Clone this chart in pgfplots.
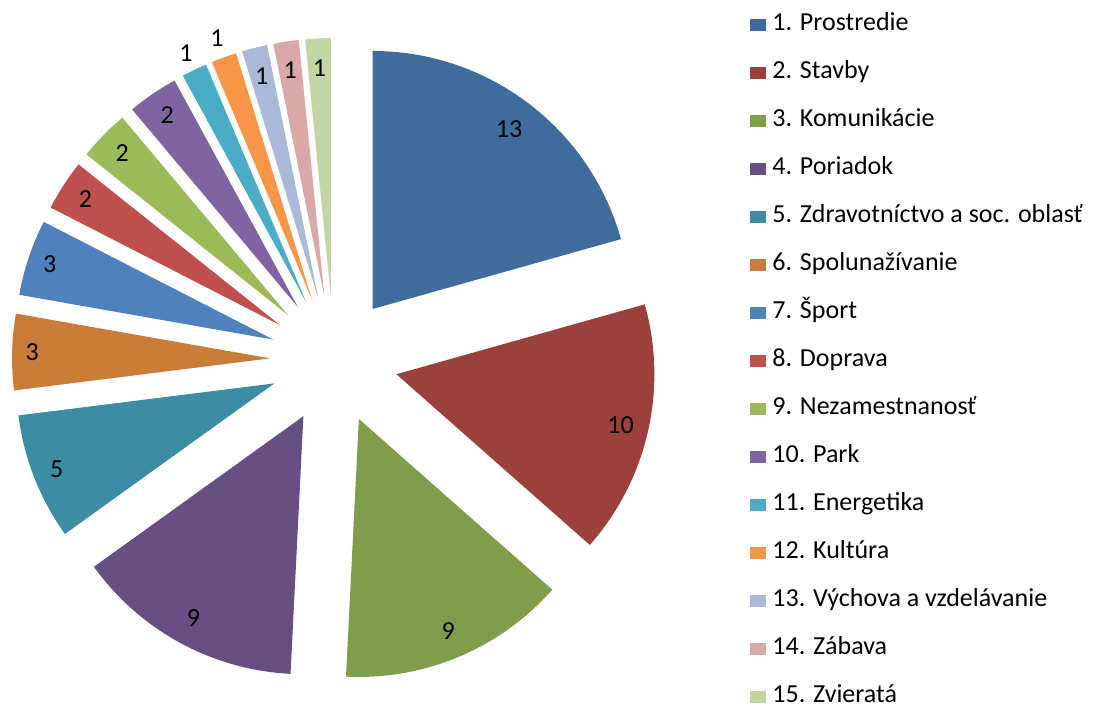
\documentclass[border=0pt]{standalone}
\usepackage{pgfplots}
\usepackage{pgfplotstable}
\pgfplotsset{compat=1.18}
\usepackage{fontspec}
\setmainfont{Carlito}
\definecolor{pc0}{HTML}{3F6B9D}
\definecolor{pc1}{HTML}{9C403D}
\definecolor{pc2}{HTML}{7F9D4A}
\definecolor{pc3}{HTML}{674F84}
\definecolor{pc4}{HTML}{3C8DA3}
\definecolor{pc5}{HTML}{C97B38}
\definecolor{pc6}{HTML}{4F81BD}
\definecolor{pc7}{HTML}{C0504D}
\definecolor{pc8}{HTML}{9BBB59}
\definecolor{pc9}{HTML}{8064A2}
\definecolor{pc10}{HTML}{4BACC6}
\definecolor{pc11}{HTML}{F79646}
\definecolor{pc12}{HTML}{A9B9D7}
\definecolor{pc13}{HTML}{D9A9A8}
\definecolor{pc14}{HTML}{C4D5A5}
\pgfplotstableread{
val lr
13 226
10 230
9 230
9 230
5 234
3 238
3 236
2 232
2 232
2 232
1 277
1 278
1 229
1 229
1 228
}\piedata
\newcommand\lbl{\fontsize{13pt}{15pt}\selectfont}
\newcommand\legitem[2]{%
  \fill[pc#1] (axis cs:750,{686-48*#1-6}) rectangle (axis cs:766,{686-48*#1+6});
  \node[anchor=base west, inner sep=0pt, font=\lbl] at (axis cs:772,{686-48*#1-6}) {#2};
}
\begin{document}
\begin{tikzpicture}
\gdef\cum{0}
\foreach \i in {0,...,14}{%
  \pgfplotstablegetelem{\i}{val}\of\piedata \let\v\pgfplotsretval
  \pgfplotstablegetelem{\i}{lr}\of\piedata \let\lr\pgfplotsretval
  \pgfmathsetmacro\sa{90-\cum*(360/63)}%
  \pgfmathsetmacro\ea{90-(\cum+\v)*(360/63)}%
  \pgfmathsetmacro\ma{(\sa+\ea)/2}%
  \pgfmathsetmacro\ax{334+64*cos(\ma)}%
  \pgfmathsetmacro\ay{351+64*sin(\ma)}%
  \pgfmathsetmacro\lx{\ax+\lr*cos(\ma)}%
  \pgfmathsetmacro\ly{\ay+\lr*sin(\ma)}%
  \pgfmathsetmacro\newcum{\cum+\v}%
  \xdef\cum{\newcum}%
  \expandafter\xdef\csname sa\i\endcsname{\sa}%
  \expandafter\xdef\csname ea\i\endcsname{\ea}%
  \expandafter\xdef\csname ax\i\endcsname{\ax}%
  \expandafter\xdef\csname ay\i\endcsname{\ay}%
  \expandafter\xdef\csname lx\i\endcsname{\lx}%
  \expandafter\xdef\csname ly\i\endcsname{\ly}%
  \expandafter\xdef\csname vv\i\endcsname{\v}%
}
\begin{axis}[at={(0,0)}, anchor=south west,
  width=547pt, height=355.5pt, scale only axis,
  xmin=0, xmax=1094, ymin=0, ymax=711,
  hide axis, clip=false]
\pgfplotsinvokeforeach{0,...,14}{
  \fill[pc#1] (axis cs:\csname ax#1\endcsname,\csname ay#1\endcsname) -- ++(\csname sa#1\endcsname:129pt) arc[start angle=\csname sa#1\endcsname, end angle=\csname ea#1\endcsname, radius=129pt] -- cycle;
  \node[font=\lbl, inner sep=0pt] at (axis cs:\csname lx#1\endcsname,\csname ly#1\endcsname) {\csname vv#1\endcsname};
}
\legitem{0}{1. Prostredie}
\legitem{1}{2. Stavby}
\legitem{2}{3. Komunikácie}
\legitem{3}{4. Poriadok}
\legitem{4}{5. Zdravotníctvo a soc. oblasť}
\legitem{5}{6. Spolunažívanie}
\legitem{6}{7. Šport}
\legitem{7}{8. Doprava}
\legitem{8}{9. Nezamestnanosť}
\legitem{9}{10. Park}
\legitem{10}{11. Energetika}
\legitem{11}{12. Kultúra}
\legitem{12}{13. Výchova a vzdelávanie}
\legitem{13}{14. Zábava}
\legitem{14}{15. Zvieratá}
\end{axis}
\pgfresetboundingbox
\path (0,0) rectangle (547pt,355.5pt);
\end{tikzpicture}
\end{document}
